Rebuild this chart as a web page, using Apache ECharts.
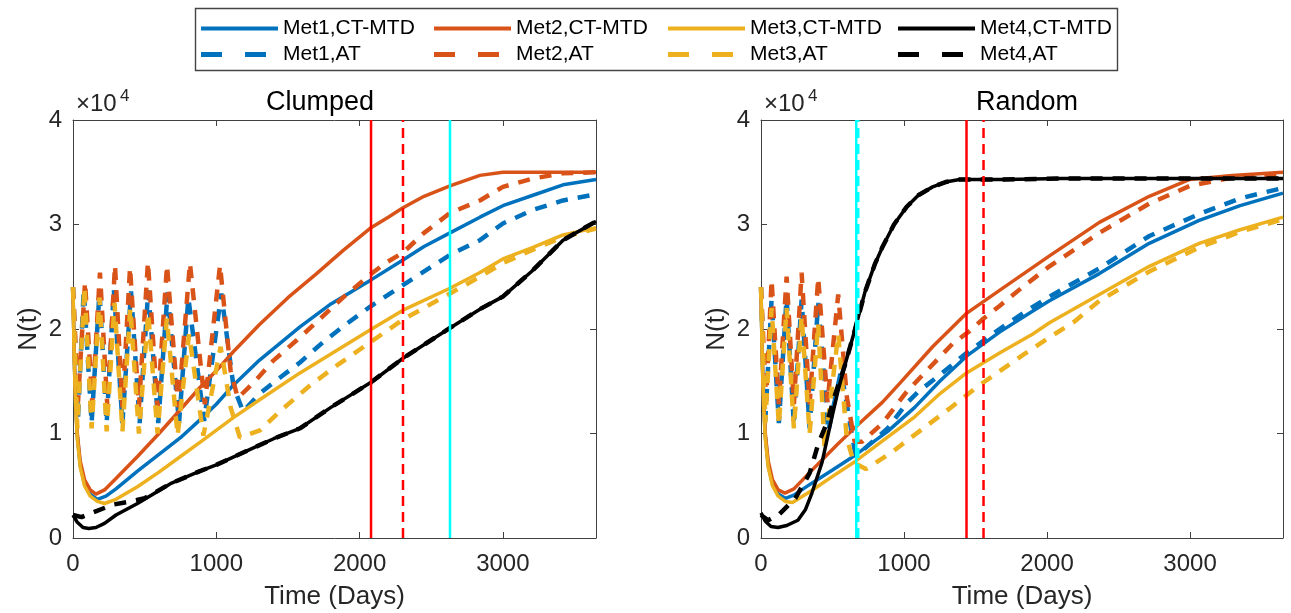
<!DOCTYPE html>
<html><head><meta charset="utf-8">
<script src="https://cdn.jsdelivr.net/npm/echarts/dist/echarts.min.js"></script>
<style>html,body{margin:0;padding:0;background:#fff}#c{width:1291px;height:613px}</style>
</head><body><div id="c"></div>
<script>
// ---- DATA: [time (days), N(t) in units of 10^4] ----
const seriesNames = ['Met1,CT-MTD','Met1,AT','Met2,CT-MTD','Met2,AT','Met3,CT-MTD','Met3,AT','Met4,CT-MTD','Met4,AT'];
const legendRows = [['Met1,CT-MTD','Met2,CT-MTD','Met3,CT-MTD','Met4,CT-MTD'], ['Met1,AT','Met2,AT','Met3,AT','Met4,AT']];
const panelTitles = ['Clumped','Random'];
const xTicks = [0, 1000, 2000, 3000];
const yTicks = [0, 1, 2, 3, 4];

// Clumped
const clumpedMet1CT = [[0,2.4],[8,1.75],[18,1.3],[30,0.98],[50,0.7],[80,0.52],[120,0.42],[170,0.37],[230,0.4],[300,0.47],[450,0.64],[600,0.8],[750,0.96],[886,1.13],[1000,1.28],[1117,1.46],[1300,1.7],[1584,2.02],[1800,2.24],[2080,2.47],[2303,2.66],[2450,2.79],[2631,2.92],[2840,3.07],[3000,3.18],[3210,3.28],[3420,3.38],[3650,3.43]];
const clumpedMet1AT = [[0,2.4],[35,1.15],[75,2.38],[130,1.1],[185,2.36],[235,1.1],[285,2.38],[345,1.1],[405,2.36],[465,1.1],[525,2.37],[595,1.1],[660,2.35],[740,1.1],[805,2.3],[915,1.12],[1035,2.34],[1120,1.45],[1187,1.21],[1300,1.38],[1450,1.54],[1584,1.68],[1750,1.88],[1910,2.05],[2080,2.22],[2303,2.42],[2631,2.71],[2840,2.85],[3000,3.01],[3210,3.14],[3420,3.23],[3650,3.29]];
const clumpedMet2CT = [[0,2.4],[8,1.77],[18,1.33],[30,1.0],[50,0.74],[80,0.56],[120,0.46],[160,0.42],[220,0.46],[300,0.57],[450,0.78],[600,1.0],[750,1.23],[886,1.44],[1000,1.6],[1117,1.78],[1300,2.04],[1500,2.3],[1700,2.53],[1884,2.75],[2080,2.97],[2200,3.07],[2303,3.16],[2450,3.27],[2631,3.37],[2840,3.47],[3000,3.5],[3300,3.5],[3650,3.5]];
const clumpedMet2AT = [[0,2.4],[35,1.3],[84,2.45],[135,1.28],[188,2.54],[240,1.25],[293,2.61],[345,1.25],[398,2.59],[460,1.25],[523,2.64],[590,1.25],[656,2.61],[735,1.25],[816,2.63],[920,1.28],[1026,2.61],[1100,1.6],[1150,1.34],[1256,1.48],[1400,1.7],[1584,1.92],[1884,2.3],[2073,2.52],[2191,2.64],[2303,2.73],[2450,2.92],[2631,3.11],[2840,3.23],[3000,3.36],[3210,3.44],[3420,3.49],[3650,3.5]];
const clumpedMet3CT = [[0,2.4],[8,1.72],[18,1.27],[30,0.95],[50,0.68],[80,0.5],[120,0.4],[170,0.35],[220,0.33],[300,0.37],[450,0.49],[600,0.63],[750,0.78],[900,0.93],[1117,1.15],[1300,1.32],[1584,1.58],[1800,1.76],[2073,1.99],[2303,2.18],[2631,2.39],[2840,2.54],[3000,2.67],[3210,2.78],[3420,2.9],[3650,2.97]];
const clumpedMet3AT = [[0,2.4],[30,1.05],[80,2.4],[130,1.05],[185,2.3],[235,1.02],[290,2.25],[345,1.02],[400,2.2],[460,1.0],[525,2.15],[590,1.0],[655,2.1],[730,0.98],[810,1.95],[910,0.98],[1030,1.83],[1100,1.25],[1165,0.96],[1304,1.03],[1450,1.22],[1654,1.46],[1850,1.66],[2050,1.85],[2303,2.09],[2631,2.34],[2840,2.5],[3000,2.63],[3210,2.76],[3420,2.88],[3650,2.96]];
const clumpedMet4CT = [[0,0.22],[30,0.15],[70,0.1],[110,0.09],[160,0.1],[220,0.14],[300,0.22],[450,0.33],[680,0.52],[886,0.64],[1000,0.7],[1240,0.85],[1400,0.95],[1584,1.05],[1800,1.25],[2080,1.49],[2303,1.72],[2631,2.01],[2840,2.19],[3000,2.31],[3200,2.55],[3420,2.85],[3650,3.03]];
const clumpedMet4AT = [[0,0.22],[60,0.2],[150,0.25],[280,0.32],[400,0.35],[500,0.38],[680,0.52],[886,0.64],[1000,0.7],[1240,0.85],[1400,0.95],[1584,1.05],[1800,1.25],[2080,1.49],[2303,1.72],[2631,2.01],[2840,2.19],[3000,2.31],[3200,2.55],[3420,2.85],[3650,3.03]];

// Random
const randomMet1CT = [[0,2.4],[8,1.75],[18,1.3],[30,0.98],[50,0.7],[80,0.52],[120,0.42],[170,0.38],[230,0.41],[350,0.52],[500,0.65],[656,0.79],[886,1.02],[1075,1.25],[1250,1.5],[1437,1.74],[1668,1.97],[1898,2.17],[2017,2.27],[2366,2.53],[2715,2.82],[3064,3.04],[3350,3.18],[3650,3.3]];
const randomMet1AT = [[0,2.4],[30,1.12],[74,2.28],[125,1.1],[179,2.3],[230,1.08],[284,2.28],[340,1.05],[400,2.25],[470,1.02],[560,1.6],[610,1.2],[660,0.8],[720,0.85],[886,1.05],[1019,1.29],[1100,1.4],[1250,1.56],[1437,1.77],[1668,2.0],[1898,2.21],[2017,2.31],[2366,2.58],[2715,2.89],[3064,3.1],[3350,3.25],[3650,3.35]];
const randomMet2CT = [[0,2.4],[8,1.77],[18,1.33],[30,1.0],[50,0.74],[80,0.56],[120,0.46],[167,0.43],[230,0.47],[350,0.64],[537,0.9],[691,1.1],[850,1.3],[970,1.48],[1200,1.83],[1437,2.15],[1668,2.37],[2017,2.7],[2366,3.02],[2715,3.27],[2994,3.43],[3294,3.47],[3650,3.5]];
const randomMet2AT = [[0,2.4],[35,1.3],[74,2.47],[125,1.28],[179,2.5],[230,1.28],[284,2.54],[340,1.28],[400,2.49],[465,1.3],[540,2.33],[600,1.35],[655,0.92],[705,0.92],[851,1.1],[1019,1.4],[1158,1.6],[1340,1.86],[1458,1.98],[1556,2.1],[1668,2.22],[1828,2.4],[2017,2.6],[2366,2.92],[2715,3.2],[3000,3.37],[3300,3.45],[3650,3.48]];
const randomMet3CT = [[0,2.4],[8,1.72],[18,1.27],[30,0.95],[50,0.68],[80,0.5],[120,0.4],[170,0.35],[220,0.34],[350,0.45],[500,0.59],[656,0.73],[850,0.93],[1075,1.16],[1250,1.38],[1437,1.58],[1668,1.77],[1898,1.95],[2017,2.06],[2366,2.33],[2715,2.6],[3064,2.82],[3350,2.95],[3650,3.07]];
const randomMet3AT = [[0,2.4],[30,1.1],[74,2.2],[125,1.08],[179,2.2],[230,1.05],[284,2.12],[340,1.0],[400,2.05],[445,0.85],[540,1.95],[600,0.95],[650,0.72],[733,0.66],[914,0.82],[1019,0.93],[1320,1.24],[1515,1.45],[1840,1.76],[2017,1.92],[2190,2.07],[2366,2.27],[2715,2.55],[3064,2.78],[3350,2.93],[3650,3.05]];
const randomMet4CT = [[0,0.24],[30,0.16],[70,0.11],[119,0.1],[180,0.12],[258,0.17],[310,0.27],[356,0.43],[426,0.72],[495,1.15],[537,1.4],[586,1.65],[656,1.99],[726,2.35],[796,2.62],[851,2.79],[930,3.0],[1019,3.17],[1100,3.28],[1200,3.36],[1300,3.41],[1389,3.43],[1700,3.43],[2100,3.44],[2600,3.44],[3100,3.44],[3650,3.44]];
const randomMet4AT = [[0,0.22],[50,0.17],[130,0.23],[240,0.38],[340,0.62],[400,0.9],[460,1.1],[520,1.38],[586,1.65],[656,1.99],[726,2.35],[796,2.62],[851,2.79],[930,3.0],[1019,3.17],[1100,3.28],[1200,3.36],[1300,3.41],[1389,3.43],[1700,3.43],[2100,3.44],[2600,3.44],[3100,3.44],[3650,3.44]];

// Vertical marker days
const clumpedMarkers = {ctRed: 2080, atRed: 2303, cyanSolid: 2631};
const randomMarkers = {ctRed: 1437, atRed: 1556, cyanSolid: 666, cyanDashed: 680};

// ---- STYLE ----
const FONT = '"Liberation Sans", Arial, Helvetica, sans-serif';
const AX = '#404040';
const colors = {Met1:'#0072BD', Met2:'#D95319', Met3:'#EDB120', Met4:'#000000'};
const grids = [
  {left:73, top:120, width:523, height:418},
  {left:761, top:120, width:522, height:418}
];

function xAxes(gi){
  const base = {type:'value', gridIndex:gi, min:0, max:3650, interval:1000,
    splitLine:{show:false},
    axisLine:{show:true, onZero:false, lineStyle:{color:AX, width:1}},
    axisTick:{show:true, inside:true, length:6, lineStyle:{color:AX, width:1}}};
  return [
    Object.assign({}, base, {position:'bottom',
      axisLabel:{show:true, fontSize:24, color:'#262626', fontFamily:FONT, margin:14, showMaxLabel:false,
        formatter: v => xTicks.includes(v) ? String(v) : ''},
      name:'Time (Days)', nameLocation:'middle', nameGap:46,
      nameTextStyle:{fontSize:26, color:'#262626', fontFamily:FONT}}),
    Object.assign({}, base, {position:'top', axisLabel:{show:false}})
  ];
}
function yAxes(gi){
  const base = {type:'value', gridIndex:gi, min:0, max:4, interval:1,
    splitLine:{show:false},
    axisLine:{show:true, onZero:false, lineStyle:{color:AX, width:1}},
    axisTick:{show:true, inside:true, length:6, lineStyle:{color:AX, width:1}}};
  return [
    Object.assign({}, base, {position:'left',
      axisLabel:{show:true, fontSize:24, color:'#262626', fontFamily:FONT, margin:11,
        formatter: v => yTicks.includes(v) ? String(v) : ''},
      name:'N(t)', nameLocation:'middle', nameGap:31, nameRotate:90,
      nameTextStyle:{fontSize:26, color:'#262626', fontFamily:FONT}}),
    Object.assign({}, base, {position:'right', axisLabel:{show:false}})
  ];
}

function curve(name, data, gi){
  const met = name.split(',')[0];
  const dashed = name.endsWith('AT');
  return {type:'line', name, data, xAxisIndex:gi*2, yAxisIndex:gi*2,
    symbol:'none', silent:true, animation:false,
    lineStyle:{color:colors[met], width: dashed ? 4.5 : 3.5, type: dashed ? [12,10] : 'solid', cap:'butt'},
    itemStyle:{color:colors[met]}};
}
function vline(id, t, color, dashed, gi){
  return {type:'line', name:id, data:[[t,0],[t,4]], xAxisIndex:gi*2, yAxisIndex:gi*2,
    symbol:'none', silent:true, animation:false, z:5,
    lineStyle:{color, width:2.5, type: dashed ? [10,6] : 'solid'}};
}

const clumpedData = [clumpedMet1CT, clumpedMet1AT, clumpedMet2CT, clumpedMet2AT, clumpedMet3CT, clumpedMet3AT, clumpedMet4CT, clumpedMet4AT];
const randomData = [randomMet1CT, randomMet1AT, randomMet2CT, randomMet2AT, randomMet3CT, randomMet3AT, randomMet4CT, randomMet4AT];

const series = [];
seriesNames.forEach((n,i) => series.push(curve(n, clumpedData[i], 0)));
seriesNames.forEach((n,i) => series.push(curve(n, randomData[i], 1)));
series.push(vline('c-ct', clumpedMarkers.ctRed, '#FF0000', false, 0));
series.push(vline('c-at', clumpedMarkers.atRed, '#FF0000', true, 0));
series.push(vline('c-cy', clumpedMarkers.cyanSolid, '#00FFFF', false, 0));
series.push(vline('r-cy', randomMarkers.cyanSolid, '#00FFFF', false, 1));
series.push(vline('r-cyd', randomMarkers.cyanDashed, '#00FFFF', true, 1));
series.push(vline('r-ct', randomMarkers.ctRed, '#FF0000', false, 1));
series.push(vline('r-at', randomMarkers.atRed, '#FF0000', true, 1));

// ---- LEGEND (one legend component per cell to keep MATLAB-like columns) ----
const legendColLeft = [201, 434, 668, 898];
const legendRowTop = [18, 44];
const DASH_ICON = 'path://M0,0h21v5h-21z M44,0h21v5h-21z M76.99,2.5h0.01v0.01h-0.01z';
const legends = [];
legendRows.forEach((row, r) => row.forEach((name, c) => {
  const dashed = r === 1;
  legends.push({data:[{name, icon: dashed ? DASH_ICON : 'rect'}],
    left: legendColLeft[c], top: legendRowTop[r], padding:0,
    itemWidth:77, itemHeight: dashed ? 5 : 4, symbolKeepAspect:false, selectedMode:false,
    textStyle:{fontSize:21, color:'#000', fontFamily:FONT}});
}));

const graphic = [
  {type:'rect', shape:{x:195.5, y:8.5, width:922, height:62}, style:{fill:'none', stroke:'#444', lineWidth:1.4}, z:-1}
];
[[320, 76], [1027, 764]].forEach(([cx, ex], i) => {
  graphic.push({type:'text', x:cx, y:103, style:{text:panelTitles[i], font:'27px '+FONT, fill:'#000', align:'center', verticalAlign:'middle'}});
  graphic.push({type:'text', x:ex, y:104, style:{text:'\u00d710', font:'24px '+FONT, fill:'#262626', align:'left', verticalAlign:'middle'}});
  graphic.push({type:'text', x:ex+44, y:96, style:{text:'4', font:'17px '+FONT, fill:'#262626', align:'left', verticalAlign:'middle'}});
});

const option = {
  backgroundColor:'#fff',
  animation:false,
  grid: grids.map(g => Object.assign({containLabel:false, outerBoundsMode:'none'}, g)),
  xAxis: [...xAxes(0), ...xAxes(1)],
  yAxis: [...yAxes(0), ...yAxes(1)],
  legend: legends,
  series,
  graphic
};
const chart = echarts.init(document.getElementById('c'), null, {renderer:'canvas'});
chart.setOption(option);
</script></body></html>
